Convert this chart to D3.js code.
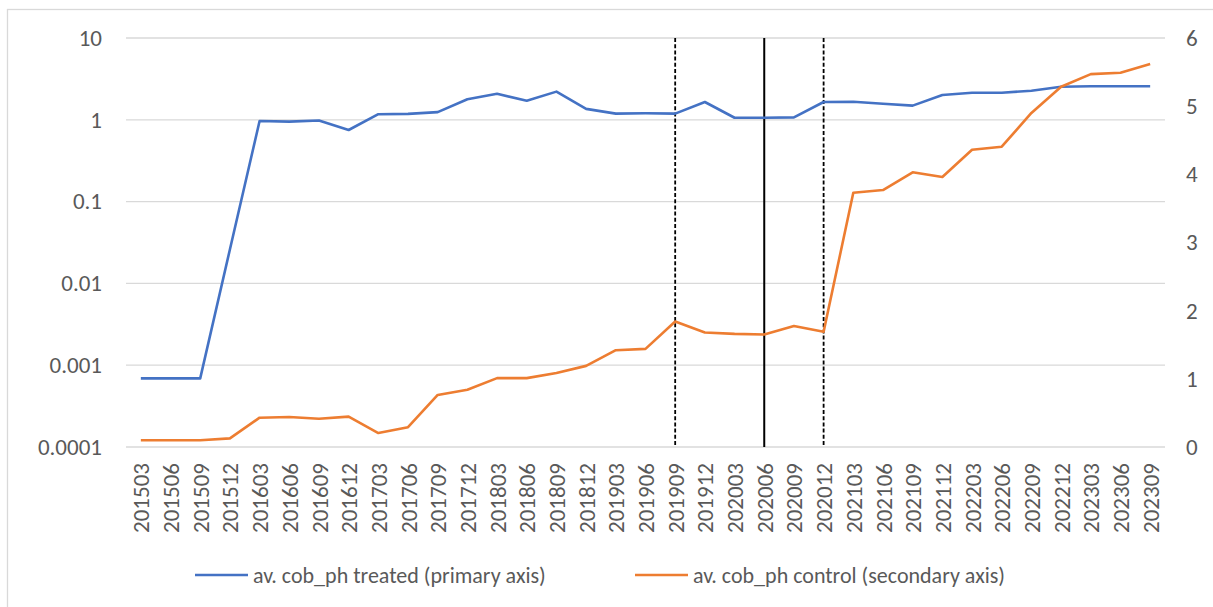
<!DOCTYPE html>
<meta charset="utf-8">
<style>
body { margin: 0; background: #fff; }
text { font-family: Carlito, Calibri, Lato, sans-serif; fill: #595959; }
.grid line { stroke: #d9d9d9; stroke-width: 1.3px; }
.line { fill: none; stroke-width: 2.6px; stroke-linejoin: round; }
</style>
<body>
<svg width="1213" height="607"></svg>
<script src="https://d3js.org/d3.v7.min.js"></script>
<script>
var periods = ["201503","201506","201509","201512","201603","201606","201609","201612",
  "201703","201706","201709","201712","201803","201806","201809","201812",
  "201903","201906","201909","201912","202003","202006","202009","202012",
  "202103","202106","202109","202112","202203","202206","202209","202212",
  "202303","202306","202309"];

// primary axis (log)
var treated = [0.00069,0.00069,0.00069,0.026,0.965,0.95,0.98,0.75,
  1.17,1.18,1.24,1.78,2.08,1.71,2.21,1.36,
  1.19,1.2,1.19,1.65,1.06,1.06,1.07,1.65,
  1.66,1.57,1.49,2.01,2.14,2.14,2.27,2.54,
  2.57,2.57,2.57];

// secondary axis (linear)
var control = [0.1,0.1,0.1,0.127,0.43,0.44,0.415,0.445,
  0.205,0.29,0.763,0.84,1.01,1.01,1.085,1.19,
  1.42,1.44,1.84,1.68,1.66,1.65,1.775,1.69,
  3.73,3.77,4.03,3.96,4.36,4.405,4.9,5.285,
  5.47,5.49,5.62];

var leftTicks = [10, 1, 0.1, 0.01, 0.001, 0.0001];
var rightTicks = [0, 1, 2, 3, 4, 5, 6];
var dashedMarks = ["201909", "202012"];
var solidMarks = ["202006"];
var seriesNames = ["av. cob_ph treated (primary axis)", "av. cob_ph control (secondary axis)"];
var colors = ["#4472C4", "#ED7D31"];

var svg = d3.select("svg");
var plotLeft = 126, plotRight = 1165, plotTop = 38, plotBottom = 447;

// chart frame
svg.append("rect")
    .attr("x", 7.5).attr("y", 9.5)
    .attr("width", 1230).attr("height", 640)
    .attr("fill", "none").attr("stroke", "#d9d9d9").attr("stroke-width", 1.3);

var x = d3.scalePoint().domain(periods).range([plotLeft, plotRight]).padding(0.5);
var y = d3.scaleLog().domain([0.0001, 10]).range([plotBottom, plotTop]);
var y2 = d3.scaleLinear().domain([0, 6]).range([plotBottom, plotTop]);

// gridlines
svg.append("g").attr("class", "grid")
  .selectAll("line").data(leftTicks).enter().append("line")
    .attr("x1", plotLeft).attr("x2", plotRight)
    .attr("y1", function(d) { return y(d); })
    .attr("y2", function(d) { return y(d); });

// left axis labels
var yAxis = d3.axisLeft(y).tickValues(leftTicks).tickSize(0).tickPadding(0)
    .tickFormat(function(d) { return String(d); });
var gy = svg.append("g").attr("transform", "translate(102,0)").call(yAxis);
gy.select(".domain").remove();
gy.selectAll("text").style("font-size", "23px").attr("fill", "#595959").attr("font-family", null);

// right axis labels
var y2Axis = d3.axisRight(y2).tickValues(rightTicks).tickSize(0).tickPadding(0)
    .tickFormat(d3.format("d"));
var gy2 = svg.append("g").attr("transform", "translate(1186,0)").call(y2Axis);
gy2.select(".domain").remove();
gy2.selectAll("text").style("font-size", "23px").attr("fill", "#595959").attr("font-family", null);

// x axis labels
var xAxis = d3.axisBottom(x).tickSize(0).tickPadding(0);
var gx = svg.append("g").attr("transform", "translate(0," + plotBottom + ")").call(xAxis);
gx.select(".domain").remove();
gx.selectAll("text")
    .style("font-size", "23px").attr("fill", "#595959").attr("font-family", null)
    .attr("transform", "rotate(-90)")
    .attr("text-anchor", "end")
    .attr("x", -16).attr("y", 0).attr("dy", "0.35em");

// vertical event lines
svg.append("g").selectAll("line").data(dashedMarks).enter().append("line")
    .attr("x1", function(d) { return x(d); }).attr("x2", function(d) { return x(d); })
    .attr("y1", plotTop).attr("y2", plotBottom)
    .attr("stroke", "#000").attr("stroke-width", 1.8).attr("stroke-dasharray", "4,2.2");
svg.append("g").selectAll("line").data(solidMarks).enter().append("line")
    .attr("x1", function(d) { return x(d); }).attr("x2", function(d) { return x(d); })
    .attr("y1", plotTop).attr("y2", plotBottom)
    .attr("stroke", "#000").attr("stroke-width", 2);

// series lines
var line1 = d3.line()
    .x(function(d, i) { return x(periods[i]); })
    .y(function(d) { return y(d); });
var line2 = d3.line()
    .x(function(d, i) { return x(periods[i]); })
    .y(function(d) { return y2(d); });

svg.append("path").attr("class", "line").attr("d", line1(treated)).attr("stroke", colors[0]);
svg.append("path").attr("class", "line").attr("d", line2(control)).attr("stroke", colors[1]);

// legend
var legendX = [195, 635];
var legend = svg.append("g").selectAll("g").data(seriesNames).enter().append("g")
    .attr("transform", function(d, i) { return "translate(" + legendX[i] + ",575)"; });
legend.append("line").attr("x1", 0).attr("x2", 53).attr("y1", 0).attr("y2", 0)
    .attr("stroke", function(d, i) { return colors[i]; }).attr("stroke-width", 2.6);
legend.append("text").attr("x", 58).attr("dy", "0.35em")
    .style("font-size", "22px")
    .text(function(d) { return d; });
</script>
</body>
